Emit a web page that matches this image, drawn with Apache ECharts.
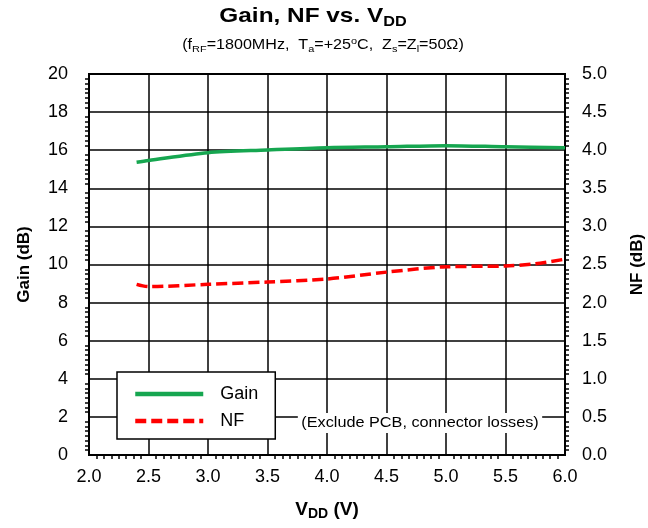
<!DOCTYPE html>
<html>
<head>
<meta charset="utf-8">
<script src="https://cdn.jsdelivr.net/npm/echarts@6/dist/echarts.min.js"></script>
<style>html,body{margin:0;padding:0;background:#fff;}#c{width:648px;height:528px;}</style>
</head>
<body>
<div id="c"></div>
<script>
const vddGain = [2.4, 2.5, 3.0, 3.5, 4.0, 4.5, 5.0, 5.5, 6.0];
const gainDb  = [15.37, 15.46, 15.87, 16.01, 16.13, 16.18, 16.24, 16.18, 16.13];
const vddNF   = [2.4, 2.5, 3.0, 3.5, 4.0, 4.5, 5.0, 5.5, 5.75, 6.0];
const nfDb    = [2.24, 2.21, 2.24, 2.27, 2.31, 2.40, 2.47, 2.48, 2.51, 2.57];

const FONT = '"Liberation Sans", Arial, sans-serif';
const chart = echarts.init(document.getElementById('c'), null, {renderer: 'canvas'});

chart.setOption({
  backgroundColor: '#fff',
  animation: false,
  textStyle: {fontFamily: FONT},
  grid: {left: 89, right: 83, top: 74, bottom: 73, outerBoundsMode: 'none', containLabel: false,
         show: true, borderColor: '#000', borderWidth: 2, backgroundColor: '#fff'},
  legend: {
    left: 117, top: 372, orient: 'vertical',
    backgroundColor: '#fff', borderColor: '#000', borderWidth: 1.5, borderRadius: 0,
    padding: [13, 17, 9, 16], itemWidth: 68, itemHeight: 14, itemGap: 9,
    itemStyle: {opacity: 0},
    lineStyle: {width: 4.5},
    textStyle: {fontSize: 18, lineHeight: 18, color: '#000', fontFamily: FONT, padding: [0, 0, 0, 12]},
    data: ['Gain', 'NF']
  },
  xAxis: {
    type: 'value', min: 2, max: 6, interval: 0.5,
    name: '{a|V}{b|DD}{a| (V)}', nameLocation: 'middle', nameGap: 44,
    nameTextStyle: {rich: {
      a: {fontSize: 19, fontWeight: 'bold', color: '#000', fontFamily: FONT, lineHeight: 22},
      b: {fontSize: 14, fontWeight: 'bold', color: '#000', fontFamily: FONT, lineHeight: 14, verticalAlign: 'bottom'}
    }},
    axisLine: {lineStyle: {color: '#000', width: 2}},
    axisTick: {show: false},
    minorTick: {show: true, splitNumber: 8, length: 4, lineStyle: {color: '#000', width: 1.5}},
    axisLabel: {fontSize: 18, color: '#000', margin: 13, fontFamily: FONT, formatter: v => v.toFixed(1)},
    splitLine: {show: true, lineStyle: {color: '#000', width: 1.5}}
  },
  yAxis: [{
    type: 'value', min: 0, max: 20, interval: 2, position: 'left',
    name: 'Gain (dB)', nameLocation: 'middle', nameGap: 56, nameRotate: 90,
    nameTextStyle: {fontSize: 17, fontWeight: 'bold', color: '#000', fontFamily: FONT},
    axisLine: {show: true, lineStyle: {color: '#000', width: 2}},
    axisTick: {show: false},
    minorTick: {show: true, splitNumber: 8, length: 4, lineStyle: {color: '#000', width: 1.5}},
    axisLabel: {fontSize: 18, color: '#000', margin: 21, fontFamily: FONT},
    splitLine: {show: true, lineStyle: {color: '#000', width: 1.5}}
  }, {
    type: 'value', min: 0, max: 5, interval: 0.5, position: 'right',
    name: 'NF (dB)', nameLocation: 'middle', nameGap: 64, nameRotate: 90,
    nameTextStyle: {fontSize: 17, fontWeight: 'bold', color: '#000', fontFamily: FONT},
    axisLine: {show: true, lineStyle: {color: '#000', width: 2}},
    axisTick: {show: false},
    minorTick: {show: true, splitNumber: 8, length: 4, lineStyle: {color: '#000', width: 1.5}},
    axisLabel: {fontSize: 18, color: '#000', margin: 17, fontFamily: FONT, formatter: v => v.toFixed(1)},
    splitLine: {show: false}
  }],
  series: [{
    name: 'Gain', type: 'line', yAxisIndex: 0, smooth: 0.3, symbol: 'none',
    data: vddGain.map((x, i) => [x, gainDb[i]]),
    lineStyle: {color: '#16a650', width: 3.5},
    itemStyle: {color: '#16a650'}, z: 3
  }, {
    name: 'NF', type: 'line', yAxisIndex: 1, smooth: 0.3, symbol: 'none',
    data: vddNF.map((x, i) => [x, nfDb[i]]),
    lineStyle: {color: '#ff0000', width: 3.5, type: [11, 5]},
    itemStyle: {color: '#ff0000'}, z: 3
  }],
  graphic: [{
    type: 'text', x: 313, y: 16, scaleX: 1.16,
    style: {
      text: '{a|Gain, NF vs. V}{b|DD}', align: 'center', verticalAlign: 'middle',
      rich: {
        a: {fontSize: 21, fontWeight: 'bold', fill: '#000', fontFamily: FONT, lineHeight: 26},
        b: {fontSize: 14, fontWeight: 'bold', fill: '#000', fontFamily: FONT, lineHeight: 16, verticalAlign: 'bottom'}
      }
    }
  }, {
    type: 'text', x: 323, y: 45, scaleX: 1.15,
    style: {
      text: '{a|(f}{s|RF}{a|=1800MHz,  T}{s|a}{a|=+25}{p|o}{a|C,  Z}{s|s}{a|=Z}{s|l}{a|=50Ω)}',
      align: 'center', verticalAlign: 'middle',
      rich: {
        a: {fontSize: 14, fill: '#000', fontFamily: FONT, lineHeight: 18},
        s: {fontSize: 9.5, fill: '#000', fontFamily: FONT, lineHeight: 11, verticalAlign: 'bottom'},
        p: {fontSize: 9.5, fill: '#000', fontFamily: FONT, lineHeight: 11, verticalAlign: 'top'}
      }
    }
  }, {
    type: 'text', x: 420, y: 423, z: 50, scaleX: 1.16,
    style: {
      text: '(Exclude PCB, connector losses)', fontSize: 14, fill: '#000', fontFamily: FONT,
      align: 'center', verticalAlign: 'middle', backgroundColor: '#fff', padding: [3, 3, 3, 3]
    }
  }]
});
</script>
</body>
</html>
